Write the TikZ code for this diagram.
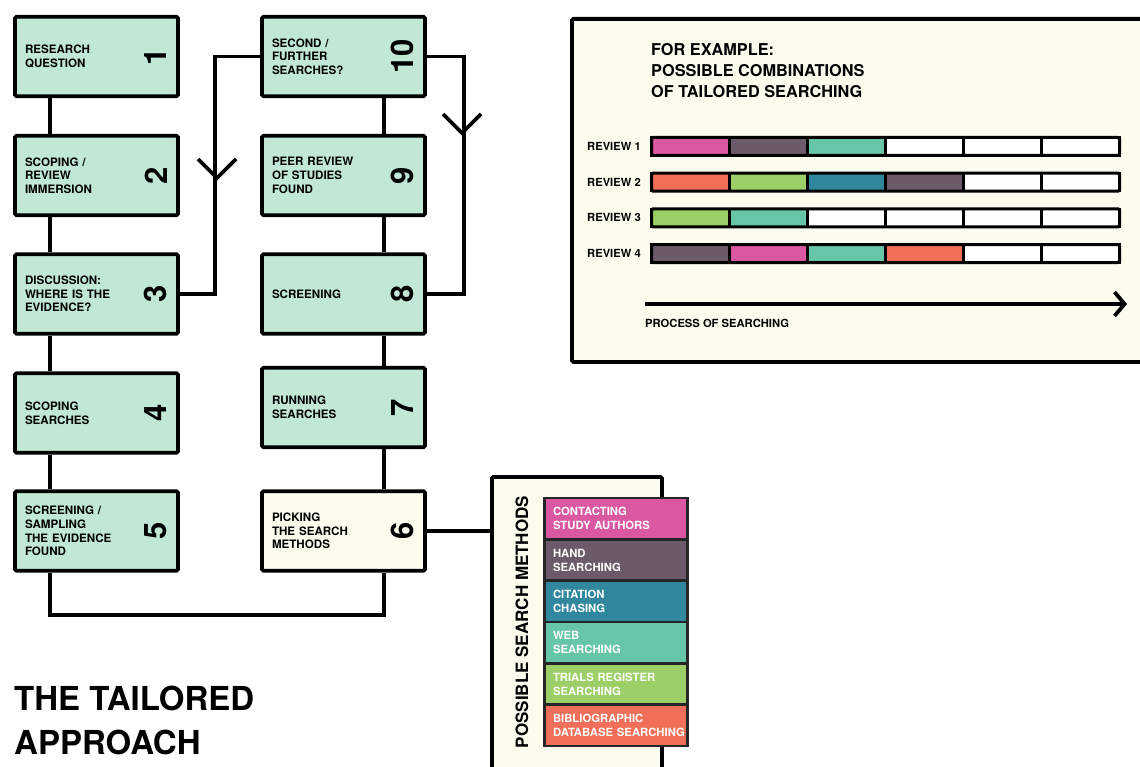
\documentclass[tikz,border=0pt]{standalone}
\usepackage{fontspec}
\setmainfont{TeX Gyre Heros}
\usetikzlibrary{arrows.meta}
\definecolor{stepfill}{HTML}{C1E8D5}
\definecolor{cream}{HTML}{FBFCEE}
\definecolor{hpink}{HTML}{DA58A2}
\definecolor{hplum}{HTML}{6A5A6A}
\definecolor{hteal}{HTML}{31889E}
\definecolor{hweb}{HTML}{67C6A8}
\definecolor{hlime}{HTML}{9CCF66}
\definecolor{hcoral}{HTML}{F16F58}
\tikzset{
  link/.style={line width=3.8pt},
  stepbox/.style={draw,line width=3.8pt,fill=stepfill,rounded corners=1.5pt,
    minimum height=79.5pt,text width=143pt,inner xsep=10pt,align=left,
    font=\fontsize{11.6}{13.7}\selectfont\bfseries},
  stepnum/.style={rotate=90,inner sep=0pt,font=\fontsize{31}{31}\selectfont\bfseries},
  panel/.style={draw,line width=3.8pt,fill=cream,rounded corners=1.5pt,
    anchor=north west,inner sep=0pt},
  method/.style={draw=black!85,line width=2.5pt,minimum height=41.3pt,
    text width=126pt,inner xsep=8.5pt,align=left,text=white,
    execute at begin node={\hyphenpenalty=10000},
    font=\fontsize{11.3}{14}\selectfont\bfseries},
  revlabel/.style={anchor=west,inner sep=0pt,font=\fontsize{11.2}{13}\selectfont\bfseries},
  barseg/.style={draw,line width=2.6pt},
}
\begin{document}
\begin{tikzpicture}[x=1pt,y=-1pt]
\useasboundingbox (0,0) rectangle (1140,767);
%
% panels
\node[panel,minimum width=590pt,minimum height=343pt] (combos) at (570,17) {};
\node[panel,minimum width=170pt,minimum height=320pt] (methods) at (490,475) {};
%
% steps
\node[stepbox] (s1) at (96.5,56.5) {RESEARCH\\QUESTION};
\node[stepbox] (s2) at (96.5,175.5) {SCOPING /\\REVIEW\\IMMERSION};
\node[stepbox] (s3) at (96.5,294) {DISCUSSION:\\WHERE IS THE\\EVIDENCE?};
\node[stepbox] (s4) at (96.5,413) {SCOPING\\SEARCHES};
\node[stepbox] (s5) at (96.5,531) {SCREENING /\\SAMPLING\\THE EVIDENCE\\FOUND};
\node[stepbox,fill=cream] (s6) at (343.5,531) {PICKING\\THE SEARCH\\METHODS};
\node[stepbox] (s7) at (343.5,407.5) {RUNNING\\SEARCHES};
\node[stepbox] (s8) at (343.5,294) {SCREENING};
\node[stepbox] (s9) at (343.5,175.5) {PEER REVIEW\\OF STUDIES\\FOUND};
\node[stepbox] (s10) at (343.5,56.5) {SECOND /\\FURTHER\\SEARCHES?};
\foreach \n in {1,...,10}
  \node[stepnum] (n\n) at ([xshift=-24pt]s\n.east) {\n};
%
% links between steps
\foreach \a/\b in {1/2,2/3,3/4,4/5}
  \draw[link] ([xshift=-46.5pt]s\a.south) -- ([xshift=-46.5pt]s\b.north);
\foreach \a/\b in {10/9,9/8,8/7,7/6}
  \draw[link] ([xshift=40.5pt]s\a.south) -- ([xshift=40.5pt]s\b.north);
\draw[link] ([xshift=-46.5pt]s5.south) -- ++(0,42) -| ([xshift=40.5pt]s6.south);
\draw[link] (s10.west) -- ++(-45,0) |- (s3.east);
\draw[link] (s10.east) -- ++(37,0) |- (s8.east);
\coordinate (back) at (217,178);
\coordinate (again) at (462,133);
\draw[link] ([shift={(-19,-19)}]back) -- (back) -- ++(19,-19);
\draw[link] ([shift={(-19,-19)}]again) -- (again) -- ++(19,-19);
\draw[link] (s6.east) -- (s6.east -| methods.west);
%
% search methods
\node[rotate=90,font=\fontsize{17}{17}\selectfont\bfseries] (mtitle) at (522,622)
  {POSSIBLE SEARCH METHODS};
\foreach \txt/\col [count=\i] in {CONTACTING\\STUDY AUTHORS/hpink,HAND\\SEARCHING/hplum,
  CITATION\\CHASING/hteal,WEB\\SEARCHING/hweb,TRIALS REGISTER\\SEARCHING/hlime,
  BIBLIOGRAPHIC\\DATABASE~SEARCHING/hcoral}
  \node[method,fill=\col] (m\i) at (616,{518.7+41.3*(\i-1)}) {\txt};
%
% combinations
\node[anchor=west,align=left,inner sep=0pt,font=\fontsize{16.3}{21}\selectfont\bfseries]
  (ctitle) at (651,70.5) {FOR EXAMPLE:\\POSSIBLE COMBINATIONS\\OF TAILORED SEARCHING};
\foreach \r/\cols in {1/{hpink,hplum,hweb,white,white,white},
  2/{hcoral,hlime,hteal,hplum,white,white},
  3/{hlime,hweb,white,white,white,white},
  4/{hplum,hpink,hweb,hcoral,white,white}}{
  \node[revlabel] (rev\r) at (587,{146.5+35.67*(\r-1)}) {REVIEW \r};
  \foreach \c [count=\i] in \cols
    \draw[barseg,fill=\c] ({651.5+78*(\i-1)},{137.5+35.67*(\r-1)}) rectangle ++(78,18);
  \draw[barseg,line width=3pt,rounded corners=1.5pt] (651.5,{137.5+35.67*(\r-1)}) rectangle ++(468,18);
}
\coordinate (procstart) at (645,304);
\coordinate (procend) at (1127,304);
\draw[link,-{Straight Barb[length=10pt,width=24pt]}] (procstart) -- (procend);
\node[revlabel] (proc) at (645,323) {PROCESS OF SEARCHING};
%
% title
\node[anchor=west,align=left,inner sep=0pt,font=\fontsize{33}{44}\selectfont\bfseries]
  (title) at (14,720.5) {THE TAILORED\\APPROACH};
\end{tikzpicture}
\end{document}
